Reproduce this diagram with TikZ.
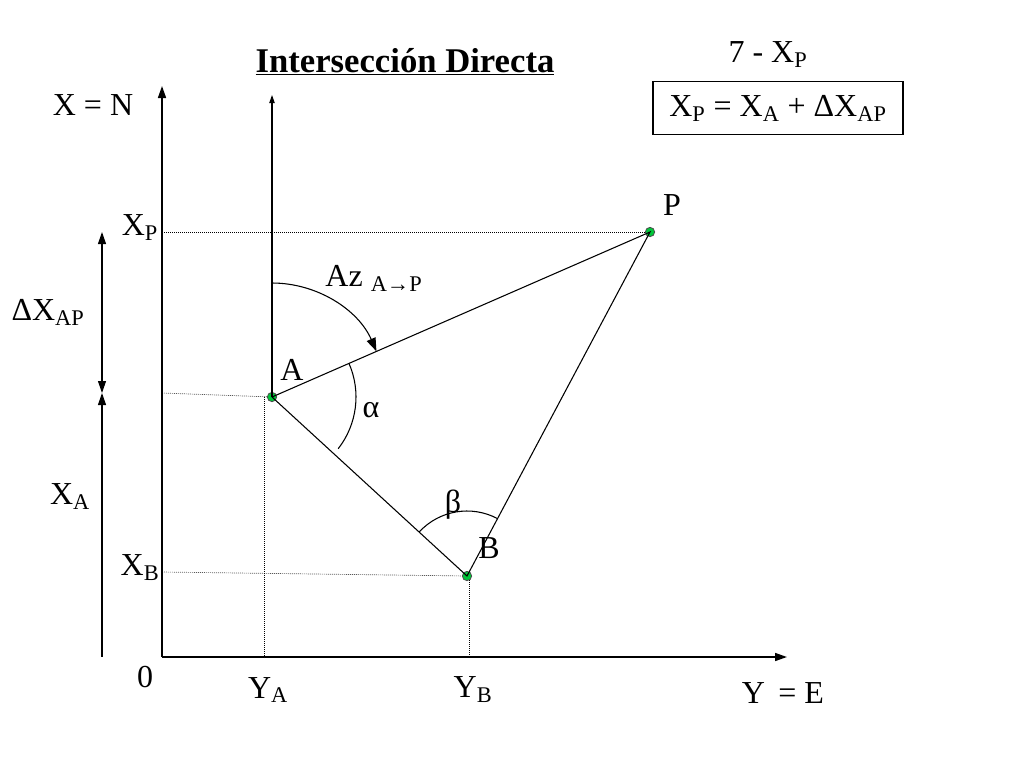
\documentclass[tikz,border=0pt]{standalone}
\usepackage{fontspec}
\setmainfont{Liberation Serif}
\usetikzlibrary{arrows.meta}
\begin{document}
\begin{tikzpicture}[x=0.75pt,y=-0.75pt,
  lab/.style={font=\fontsize{24}{28}\selectfont,inner sep=1pt},
  pt/.style={circle,draw=black!70,fill=green!55!teal,minimum size=7pt,inner sep=0pt,line width=0.6pt},
  dot/.style={densely dotted,line width=0.5pt},
  ax/.style={line width=1.2pt,-{Triangle[length=9pt,width=6pt]}},
  thin/.style={line width=0.8pt}]
\useasboundingbox (0,0) rectangle (1024,768);
\coordinate (O) at (162,657);
\coordinate (Ntop) at (162,86);
\coordinate (Eend) at (787,657);
\draw[ax] (O) -- (Ntop);
\draw[ax] (O) -- (Eend);
\node[pt] (A) at (272,397) {};
\node[pt] (P) at (650,232) {};
\node[pt] (B) at (467,576) {};
\coordinate (An) at (272,95);
\draw[thin,-{Triangle[length=6pt,width=4pt]}] (A.center) -- (An);
\draw[thin] (A.center) -- (P.center) -- (B.center) -- (A.center);
% dotted
\draw[dot] (162,232) -- (P);
\draw[dot] (162,393) -- (A);
\draw[dot] (162,572) -- (B);
\draw[dot] (264,397) -- (264,657);
\draw[dot] (469,580) -- (469,657);
% left dimension arrows
\draw[thin,{Triangle[length=9pt,width=6pt]}-{Triangle[length=9pt,width=6pt]}] (102,232) -- (102,393);
\draw[thin,{Triangle[length=9pt,width=6pt]}-] (102,393) -- (102,657);
% arcs
\draw[thin,-{Triangle[length=10pt,width=7pt]}] (272,283) arc[start angle=-90,end angle=-23.6,radius=114];
\draw[thin] (A.center) ++(-23.6:84) arc[start angle=-23.6,end angle=38,radius=84];
\draw[thin] (B.center) ++(-137.4:65) arc[start angle=-137.4,end angle=-62,radius=65];
% labels
\node[lab] (lN) at (93,105) {X = N};
\node[lab] (l0) at (145,677) {0};
\node[lab] (lE) at (783,693) {Y \,= E};
\node[lab] (lXP) at (140,228) {X\textsubscript{P}};
\node[lab] (lXB) at (140,568) {X\textsubscript{B}};
\node[lab] (lYA) at (268,690) {Y\textsubscript{A}};
\node[lab] (lYB) at (473,690) {Y\textsubscript{B}};
\node[lab] (lA) at (292,370) {A};
\node[lab] (lP) at (672,205) {P};
\node[lab] (lB) at (489,548) {B};
\node[lab] (la) at (371,410) {α};
\node[lab] (lb) at (453,505) {β};
\node[lab] (lDX) at (48,312) {ΔX\textsubscript{AP}};
\node[lab] (lXA) at (70,497) {X\textsubscript{A}};
\node[lab] (lAz) at (374,278) {Az \textsubscript{A→P}};
\node[font=\fontsize{26}{30}\selectfont\bfseries] (title) at (405,62) {\underline{Intersección Directa}};
\node[lab] (l7) at (768,55) {7 - X\textsubscript{P}};
\node[lab,draw,line width=0.8pt,minimum width=250*0.75pt,minimum height=53*0.75pt] (box) at (778,108) {X\textsubscript{P} = X\textsubscript{A} + ΔX\textsubscript{AP}};
\end{tikzpicture}
\end{document}
